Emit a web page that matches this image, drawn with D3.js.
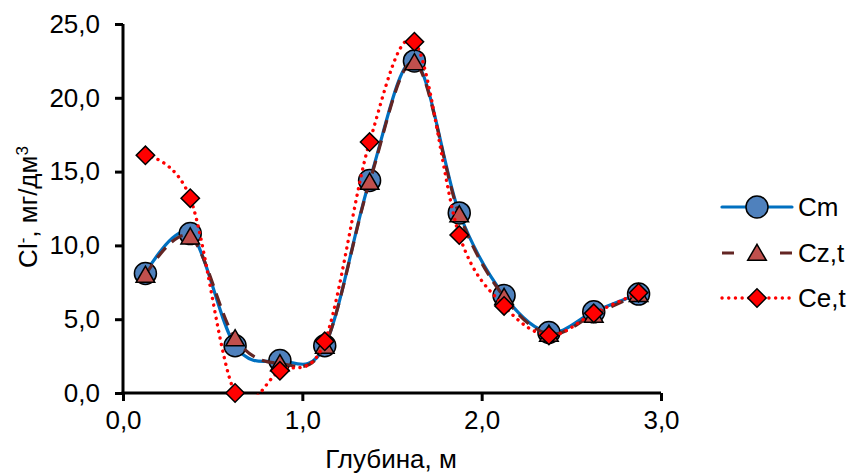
<!DOCTYPE html>
<html><head><meta charset="utf-8">
<script src="https://cdn.jsdelivr.net/npm/d3@7"></script>
<style>body{margin:0;background:#fff}svg{display:block}text{font-family:"Liberation Sans",Arial,sans-serif;fill:#000}</style>
</head><body>
<script>
const depth = [0.125,0.375,0.625,0.875,1.125,1.375,1.625,1.875,2.125,2.375,2.625,2.875];
const cm  = [8.1,10.8,3.2,2.2,3.2,14.4,22.5,12.2,6.6,4.1,5.5,6.7];
const czt = [8.0,10.6,3.7,2.0,3.2,14.3,22.4,12.1,6.5,4.0,5.3,6.7];
const cet = [16.1,13.2,0.0,1.5,3.5,17.0,23.8,10.7,5.9,3.9,5.4,6.8];
const xTicks = [0,1,2,3];
const yTicks = [0,5,10,15,20,25];
const seriesNames = ["Cm","Cz,t","Ce,t"];

const W=851,H=475;
const svg=d3.select("body").append("svg").attr("width",W).attr("height",H);
const x=d3.scaleLinear().domain([0,3]).range([123,661]);
const y=d3.scaleLinear().domain([0,25]).range([393,24]);
const fmt=d=>d.toFixed(1).replace(".",",");
const FS=26;

// axes
const ya=svg.append("g").attr("transform",`translate(${x(0)},0)`)
  .call(d3.axisLeft(y).tickValues(yTicks).tickFormat(fmt).tickSize(8).tickPadding(15));
const xa=svg.append("g").attr("transform",`translate(0,${y(0)})`)
  .call(d3.axisBottom(x).tickValues(xTicks).tickFormat(fmt).tickSize(8).tickPadding(10));
[ya,xa].forEach(g=>{
  g.selectAll("path").attr("stroke","#000").attr("stroke-width",3);
  g.selectAll("line").attr("stroke","#000").attr("stroke-width",3);
  g.selectAll("text").style("font-size",FS+"px").attr("font-family","Liberation Sans, Arial, sans-serif");
});
ya.selectAll("path").attr("d",`M0,${y(0)+1.5}V${y(25)}`);
xa.selectAll("path").attr("d",`M${x(0)-1.5},0H${x(3)}`);
xa.selectAll("text").attr("dy","0.71em");

// titles
svg.append("text").attr("x",391).attr("y",468).attr("text-anchor","middle")
  .style("font-size",FS+"px").text("Глубина, м");
const yl=svg.append("text").attr("transform","translate(37,207) rotate(-90)")
  .attr("text-anchor","middle").style("font-size",FS+"px");
yl.append("tspan").text("Cl");
yl.append("tspan").attr("dy",-9).style("font-size","17px").text("-");
yl.append("tspan").attr("dy",9).text(", мг/дм");
yl.append("tspan").attr("dy",-9).style("font-size","17px").text("3");

// clip
svg.append("defs").append("clipPath").attr("id","pc").append("rect")
  .attr("x",x(0)).attr("y",0).attr("width",x(3)-x(0)+20).attr("height",y(0)+1.5);

const line=d3.line().x(d=>x(d[0])).y(d=>y(d[1])).curve(d3.curveCardinal.tension(0));
const sym={
  circle:d3.symbol().type(d3.symbolCircle).size(Math.PI*11*11),
  tri:d3.symbol().type(d3.symbolTriangle).size(150),
  dia:d3.symbol().type(d3.symbolSquare).size(13*13)
};
const styles=[
  {vals:cm, stroke:"#0070C0", dash:null, cap:"round", w:3.2, sym:"circle", fill:"#4F81BD", rot:0},
  {vals:czt,stroke:"#632523", dash:"13 8", cap:"butt", w:3.2, sym:"tri", fill:"#C0504D", rot:0},
  {vals:cet,stroke:"#FF0000", dash:"0.1 6.6", cap:"round", w:3.4, sym:"dia", fill:"#FF0000", rot:45}
];
styles.forEach(s=>{
  const pts=depth.map((d,i)=>[d,s.vals[i]]);
  svg.append("path").attr("clip-path","url(#pc)").attr("d",line(pts)).attr("fill","none")
    .attr("stroke",s.stroke).attr("stroke-width",s.w).attr("stroke-dasharray",s.dash)
    .attr("stroke-linecap",s.cap);
  svg.append("g").selectAll("path").data(pts).join("path")
    .attr("d",sym[s.sym]())
    .attr("transform",d=>`translate(${x(d[0])},${y(d[1])+(s.sym==="tri"?2:0)}) rotate(${s.rot})`)
    .attr("fill",s.fill).attr("stroke","#000").attr("stroke-width",1.5);
});

// legend
const ly=[207,253,298];
styles.forEach((s,i)=>{
  const g=svg.append("g");
  g.append("line").attr("x1",722).attr("x2",792).attr("y1",ly[i]).attr("y2",ly[i])
    .attr("stroke",s.stroke).attr("stroke-width",s.w)
    .attr("stroke-dasharray",i===1?"12 46":s.dash).attr("stroke-linecap",s.cap);
  g.append("path").attr("d",sym[s.sym]())
    .attr("transform",`translate(757,${ly[i]+(s.sym==="tri"?2:0)}) rotate(${s.rot})`)
    .attr("fill",s.fill).attr("stroke","#000").attr("stroke-width",1.5);
  g.append("text").attr("x",798).attr("y",ly[i]).attr("dy","0.35em")
    .style("font-size",FS+"px").text(seriesNames[i]);
});
</script>
</body></html>
